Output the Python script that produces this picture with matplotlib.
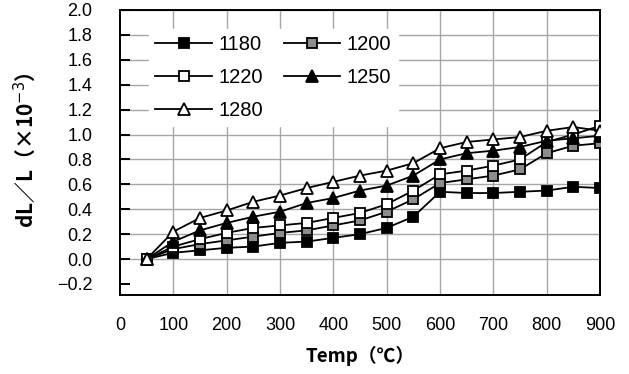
import matplotlib
matplotlib.use("Agg")
import matplotlib.pyplot as plt

# temperatures (deg C) and dL/L (x1e-3) for each sintering temperature
temp = [50, 100, 150, 200, 250, 300, 350, 400, 450, 500, 550, 600, 650, 700, 750, 800, 850, 900]
s1180 = [0, 0.05, 0.07, 0.09, 0.10, 0.13, 0.14, 0.17, 0.20, 0.25, 0.34, 0.54, 0.53, 0.53, 0.54, 0.55, 0.58, 0.57]
s1200 = [0, 0.08, 0.12, 0.15, 0.18, 0.21, 0.23, 0.27, 0.31, 0.38, 0.48, 0.61, 0.64, 0.67, 0.72, 0.85, 0.91, 0.93]
s1220 = [0, 0.10, 0.16, 0.21, 0.25, 0.27, 0.29, 0.33, 0.37, 0.44, 0.55, 0.68, 0.71, 0.75, 0.80, 0.94, 1.00, 1.07]
s1250 = [0, 0.14, 0.23, 0.29, 0.34, 0.38, 0.45, 0.49, 0.55, 0.59, 0.67, 0.80, 0.85, 0.87, 0.90, 0.95, 0.97, 0.99]
s1280 = [0, 0.22, 0.33, 0.39, 0.46, 0.51, 0.57, 0.62, 0.67, 0.71, 0.77, 0.89, 0.94, 0.96, 0.98, 1.03, 1.06, 1.03]
names = ["1180", "1200", "1220", "1250", "1280"]
xticks = [0, 100, 200, 300, 400, 500, 600, 700, 800, 900]
yticks = [-0.2, 0.0, 0.2, 0.4, 0.6, 0.8, 1.0, 1.2, 1.4, 1.6, 1.8, 2.0]

tick_font = "Liberation Sans"
cjk = ["Noto Sans CJK JP", "DejaVu Sans"]

fig = plt.figure(figsize=(6.29, 3.74), dpi=100)
ax = fig.add_axes([0.1908, 0.2112, 0.7632, 0.7621])

styles = [
    dict(marker="s", mfc="black", ms=7),
    dict(marker="s", mfc="#8c8c8c", ms=7),
    dict(marker="s", mfc="white", ms=7),
    dict(marker="^", mfc="black", ms=8.5),
    dict(marker="^", mfc="white", ms=8.5),
]
lines = []
for ys, name, st in zip([s1180, s1200, s1220, s1250, s1280], names, styles):
    ln, = ax.plot(temp, ys, color="black", lw=1.3, mec="black", mew=1.3,
                  label=name, zorder=3, **st)
    lines.append(ln)

ax.set_xlim(0, 900)
ax.set_ylim(-0.289, 2.0)
ax.set_xticks(xticks)
ax.set_yticks(yticks)
ax.set_yticklabels(["\u22120.2"] + ["%.1f" % v for v in yticks[1:]])
ax.grid(True, color="#a6a6a6", lw=1.0)
ax.yaxis.get_gridlines()[0].set_visible(False)
ax.xaxis.get_gridlines()[0].set_visible(False)
ax.set_axisbelow(True)
for sp in ax.spines.values():
    sp.set_linewidth(1.4)

ax.tick_params(axis="y", direction="in", length=7, width=1.4, pad=20)
ax.tick_params(axis="x", direction="in", length=0, pad=16)
for lab in ax.get_xticklabels() + ax.get_yticklabels():
    lab.set_fontfamily(tick_font)
    lab.set_fontsize(13)

ax.set_xlabel("Temp（℃）", family=cjk, fontweight="bold", fontsize=13.5)
ax.xaxis.set_label_coords(0.5, -0.18)
ax.set_ylabel("dL／L（×10$^{-3}$）", family=cjk, fontweight="bold", fontsize=15)
ax.yaxis.set_label_coords(-0.171, 0.509)

order = [0, 2, 4, 1, 3]
leg = ax.legend([lines[i] for i in order], [names[i] for i in order],
                ncol=2, loc="upper left", bbox_to_anchor=(0.04, 0.97),
                frameon=True, framealpha=1, edgecolor="white",
                handlelength=2.8, columnspacing=1.0, handletextpad=0.35,
                labelspacing=0.7, borderpad=0.3,
                prop={"family": tick_font, "size": 14.5})

fig.savefig("out.png", dpi=100)
